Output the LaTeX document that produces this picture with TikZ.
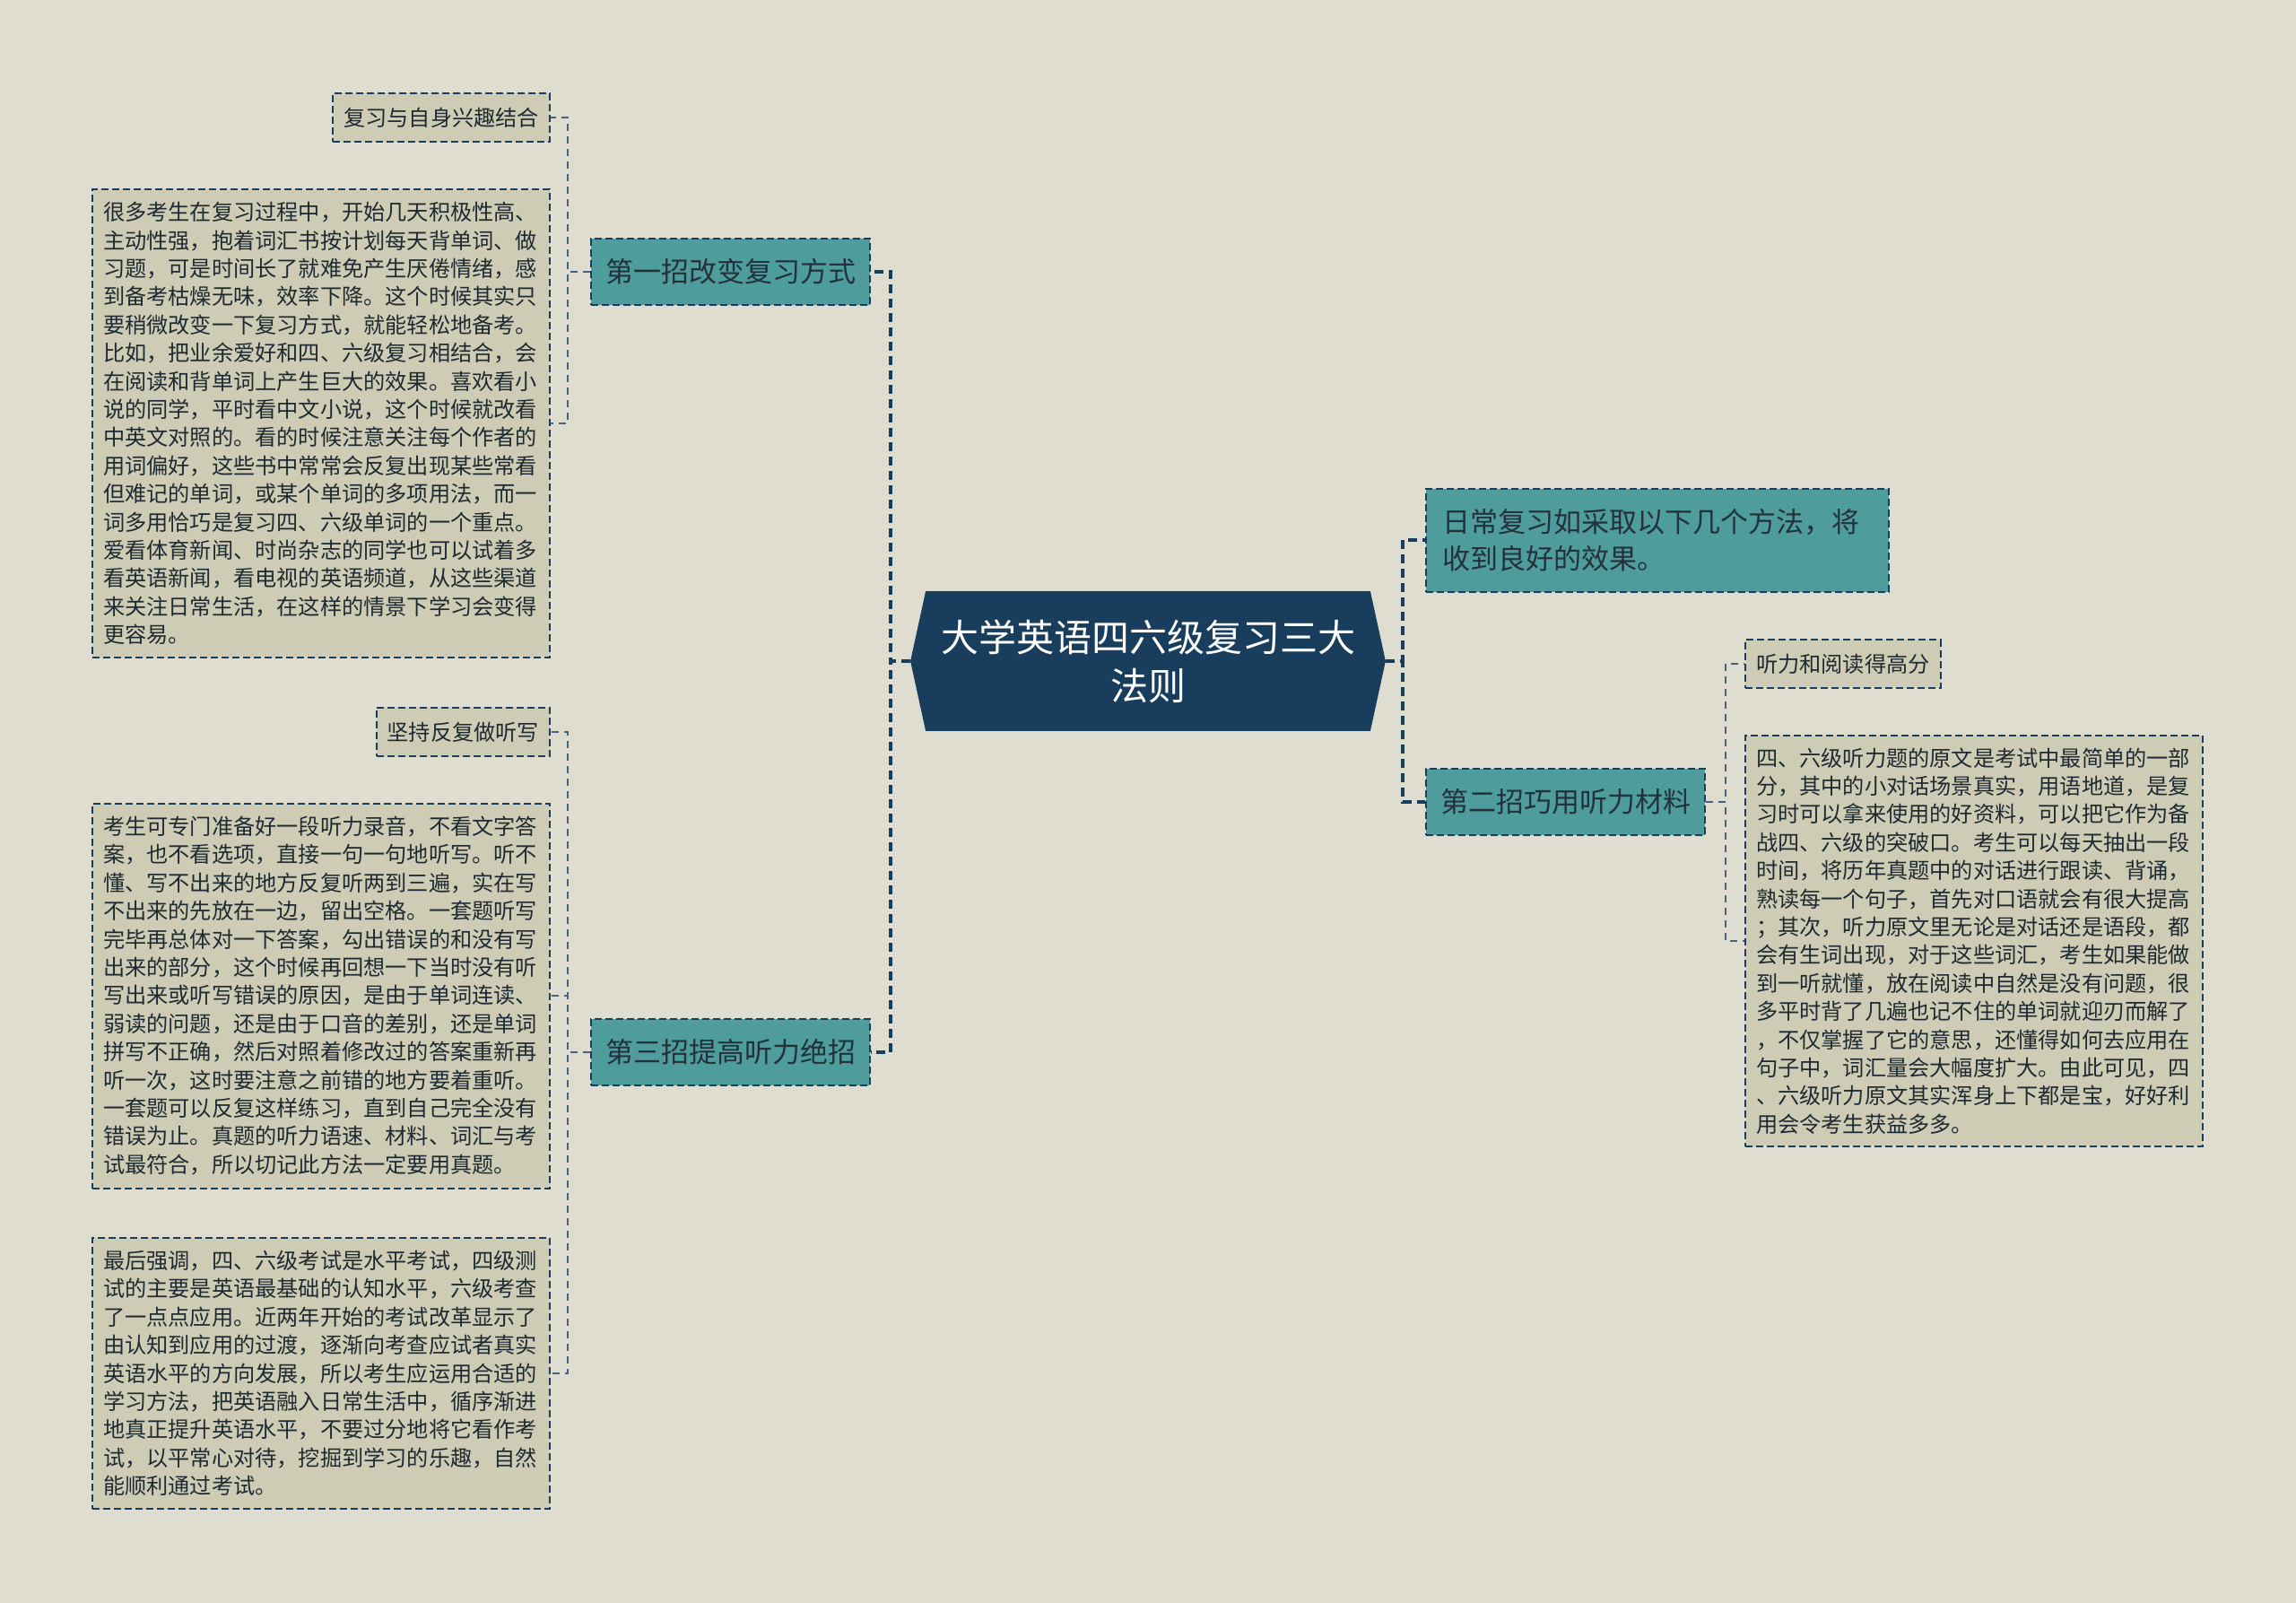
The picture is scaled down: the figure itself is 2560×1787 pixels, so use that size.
\documentclass[tikz,border=0pt]{standalone}
\usepackage{fontspec}
\setmainfont{Noto Sans CJK SC}
\usetikzlibrary{positioning,calc,backgrounds}

\definecolor{paper}{HTML}{DFDDD0}
\definecolor{navy}{HTML}{183D5D}
\definecolor{tealbox}{HTML}{4E9C9C}
\definecolor{khaki}{HTML}{CFCCB6}
\definecolor{ink}{HTML}{23313A}

\tikzset{
  frame/.style={draw=navy, dash pattern=on 4pt off 2pt, line width=1pt},
  roottext/.style={text=white, font=\fontsize{21}{27}\selectfont, align=center,
    minimum width=264.5pt, minimum height=77.5pt, inner sep=0pt},
  topic/.style={frame, fill=tealbox, text=ink, font=\fontsize{15.5}{20.5}\selectfont,
    inner xsep=8pt, minimum width=155.5pt, minimum height=37pt},
  leaf/.style={frame, fill=khaki, text=ink!85!black, font=\fontsize{12.1}{15.7}\selectfont,
    inner xsep=6pt, minimum height=27pt},
  para/.style={leaf, align=left, text width=243pt},
  mainlink/.style={draw=navy, line width=1.7pt, dash pattern=on 5pt off 3pt},
  sublink/.style={draw=navy!80, line width=0.8pt, dash pattern=on 4pt off 3pt},
}

\begin{document}
\begin{tikzpicture}[x=0.5pt, y=-0.5pt]

% centre
\node[roottext] (root) at (1280,737) {大学英语四六级复习三大\\法则};

% first level
\node[topic, anchor=east] (way1) at (971,303) {第一招改变复习方式};
\node[topic, anchor=east] (way3) at (971,1173) {第三招提高听力绝招};
\node[topic, anchor=west, align=left, text width=240pt, inner xsep=9pt,
  minimum height=57.5pt] (daily) at (1589,602) {日常复习如采取以下几个方法，将\\收到良好的效果。};
\node[topic, anchor=west] (way2) at (1589,894) {第二招巧用听力材料};

% second level, left
\node[leaf, anchor=east] (hobby) at (614,131) {复习与自身兴趣结合};
\node[para, anchor=east, minimum height=261pt] (hobbytxt) at (614,472) {很多考生在复习过程中，开始几天积极性高、\\
主动性强，抱着词汇书按计划每天背单词、做\\
习题，可是时间长了就难免产生厌倦情绪，感\\
到备考枯燥无味，效率下降。这个时候其实只\\
要稍微改变一下复习方式，就能轻松地备考。\\
比如，把业余爱好和四、六级复习相结合，会\\
在阅读和背单词上产生巨大的效果。喜欢看小\\
说的同学，平时看中文小说，这个时候就改看\\
中英文对照的。看的时候注意关注每个作者的\\
用词偏好，这些书中常常会反复出现某些常看\\
但难记的单词，或某个单词的多项用法，而一\\
词多用恰巧是复习四、六级单词的一个重点。\\
爱看体育新闻、时尚杂志的同学也可以试着多\\
看英语新闻，看电视的英语频道，从这些渠道\\
来关注日常生活，在这样的情景下学习会变得\\
更容易。};

\node[leaf, anchor=east] (dict) at (614,816) {坚持反复做听写};
\node[para, anchor=east, minimum height=214.5pt] (dicttxt) at (614,1110) {考生可专门准备好一段听力录音，不看文字答\\
案，也不看选项，直接一句一句地听写。听不\\
懂、写不出来的地方反复听两到三遍，实在写\\
不出来的先放在一边，留出空格。一套题听写\\
完毕再总体对一下答案，勾出错误的和没有写\\
出来的部分，这个时候再回想一下当时没有听\\
写出来或听写错误的原因，是由于单词连读、\\
弱读的问题，还是由于口音的差别，还是单词\\
拼写不正确，然后对照着修改过的答案重新再\\
听一次，这时要注意之前错的地方要着重听。\\
一套题可以反复这样练习，直到自己完全没有\\
错误为止。真题的听力语速、材料、词汇与考\\
试最符合，所以切记此方法一定要用真题。};

\node[para, anchor=east, minimum height=151pt] (lasttxt) at (614,1531) {最后强调，四、六级考试是水平考试，四级测\\
试的主要是英语最基础的认知水平，六级考查\\
了一点点应用。近两年开始的考试改革显示了\\
由认知到应用的过渡，逐渐向考查应试者真实\\
英语水平的方向发展，所以考生应运用合适的\\
学习方法，把英语融入日常生活中，循序渐进\\
地真正提升英语水平，不要过分地将它看作考\\
试，以平常心对待，挖掘到学习的乐趣，自然\\
能顺利通过考试。};

% second level, right
\node[leaf, anchor=west] (score) at (1945,740) {听力和阅读得高分};
\node[para, anchor=west, minimum height=229pt] (scoretxt) at (1945,1049) {四、六级听力题的原文是考试中最简单的一部\\
分，其中的小对话场景真实，用语地道，是复\\
习时可以拿来使用的好资料，可以把它作为备\\
战四、六级的突破口。考生可以每天抽出一段\\
时间，将历年真题中的对话进行跟读、背诵，\\
熟读每一个句子，首先对口语就会有很大提高\\
；其次，听力原文里无论是对话还是语段，都\\
会有生词出现，对于这些词汇，考生如果能做\\
到一听就懂，放在阅读中自然是没有问题，很\\
多平时背了几遍也记不住的单词就迎刃而解了\\
，不仅掌握了它的意思，还懂得如何去应用在\\
句子中，词汇量会大幅度扩大。由此可见，四\\
、六级听力原文其实浑身上下都是宝，好好利\\
用会令考生获益多多。};

% connectors
\draw[mainlink] (root.west) -- ++(-22,0) |- (way1.east);
\draw[mainlink] (root.west) -- ++(-22,0) |- (way3.east);
\draw[mainlink] (root.east) -- ++(19,0) |- (daily.west);
\draw[mainlink] (root.east) -- ++(19,0) |- (way2.west);

\draw[sublink] (way1.west) -- ++(-25,0) |- (hobby.east);
\draw[sublink] (way1.west) -- ++(-25,0) |- (hobbytxt.east);
\draw[sublink] (way3.west) -- ++(-25,0) |- (dict.east);
\draw[sublink] (way3.west) -- ++(-25,0) |- (dicttxt.east);
\draw[sublink] (way3.west) -- ++(-25,0) |- (lasttxt.east);
\draw[sublink] (way2.east) -- ++(22,0) |- (score.west);
\draw[sublink] (way2.east) -- ++(22,0) |- (scoretxt.west);

\begin{scope}[on background layer]
  \fill[paper] (0,0) rectangle (2560,1787);
  \fill[navy] ([xshift=8.5pt]root.north west) -- ([xshift=-8.5pt]root.north east)
    -- (root.east) -- ([xshift=-8.5pt]root.south east)
    -- ([xshift=8.5pt]root.south west) -- (root.west) -- cycle;
\end{scope}

\end{tikzpicture}
\end{document}
